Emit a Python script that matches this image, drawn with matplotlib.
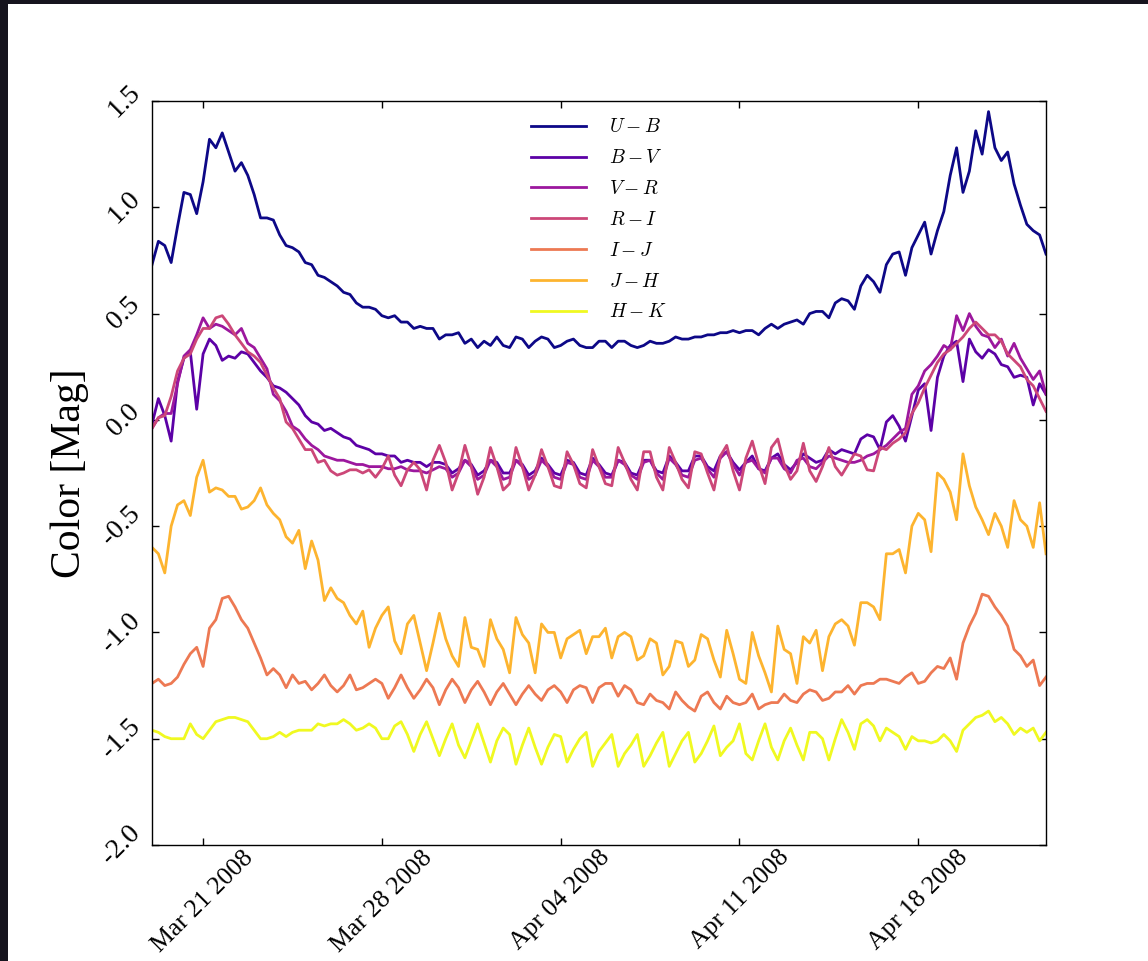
import numpy as np
import pandas as pd
import matplotlib
matplotlib.use("Agg")
import matplotlib.pyplot as plt
import matplotlib.dates as mdates
from matplotlib.patches import Rectangle

plt.rcParams["font.family"] = ["Liberation Serif", "DejaVu Serif"]
plt.rcParams["mathtext.fontset"] = "cm"

# time axis: samples every 6 hours starting 2008-03-19
start_time = "2008-03-19 00:00"
sample_step = "6h"

labels = ["$U-B$", "$B-V$", "$V-R$", "$R-I$", "$I-J$", "$J-H$", "$H-K$"]

u_b = [
    0.73, 0.84, 0.82, 0.74,  0.91, 1.07, 1.06, 0.97,  1.12, 1.32, 1.28, 1.35,
    1.26, 1.17, 1.21, 1.15,  1.06, 0.95, 0.95, 0.94,  0.87, 0.82, 0.81, 0.79,
    0.74, 0.73, 0.68, 0.67,  0.65, 0.63, 0.60, 0.59,  0.55, 0.53, 0.53, 0.52,
    0.49, 0.48, 0.49, 0.46,  0.46, 0.43, 0.44, 0.43,  0.43, 0.38, 0.40, 0.40,
    0.41, 0.36, 0.38, 0.34,  0.37, 0.35, 0.39, 0.35,  0.34, 0.39, 0.38, 0.34,
    0.37, 0.39, 0.38, 0.34,  0.35, 0.37, 0.38, 0.35,  0.34, 0.34, 0.37, 0.37,
    0.34, 0.37, 0.37, 0.35,  0.34, 0.35, 0.37, 0.36,  0.36, 0.37, 0.39, 0.38,
    0.38, 0.39, 0.39, 0.40,  0.40, 0.41, 0.41, 0.42,  0.41, 0.42, 0.42, 0.40,
    0.43, 0.45, 0.43, 0.45,  0.46, 0.47, 0.45, 0.50,  0.51, 0.51, 0.48, 0.55,
    0.57, 0.56, 0.52, 0.63,  0.68, 0.65, 0.60, 0.73,  0.78, 0.79, 0.68, 0.81,
    0.87, 0.93, 0.78, 0.89,  0.98, 1.15, 1.28, 1.07,  1.17, 1.36, 1.25, 1.45,
    1.28, 1.22, 1.26, 1.11,  1.01, 0.92, 0.89, 0.87,  0.78,
]

b_v = [
    -0.02, 0.10, 0.02, -0.10,  0.18, 0.29, 0.32, 0.05,  0.31, 0.38, 0.35, 0.28,
    0.30, 0.29, 0.32, 0.31,  0.27, 0.23, 0.20, 0.16,  0.15, 0.13, 0.10, 0.07,
    0.02, -0.01, -0.02, -0.05,  -0.04, -0.06, -0.08, -0.09,  -0.12, -0.13, -0.14, -0.16,
    -0.16, -0.17, -0.17, -0.20,  -0.19, -0.20, -0.20, -0.22,  -0.20, -0.20, -0.21, -0.25,
    -0.23, -0.19, -0.21, -0.26,  -0.24, -0.19, -0.20, -0.25,  -0.25, -0.19, -0.21, -0.26,
    -0.24, -0.18, -0.21, -0.25,  -0.26, -0.19, -0.20, -0.25,  -0.26, -0.18, -0.21, -0.25,
    -0.26, -0.19, -0.20, -0.25,  -0.26, -0.19, -0.19, -0.24,  -0.25, -0.17, -0.20, -0.24,
    -0.24, -0.17, -0.17, -0.22,  -0.24, -0.17, -0.15, -0.20,  -0.235, -0.20, -0.17, -0.23,
    -0.24, -0.18, -0.16, -0.21,  -0.235, -0.20, -0.16, -0.18,  -0.20, -0.19, -0.14, -0.16,
    -0.14, -0.15, -0.16, -0.09,  -0.07, -0.08, -0.14, -0.01,  0.02, -0.03, -0.10, 0.02,
    0.14, 0.17, -0.05, 0.20,  0.30, 0.35, 0.37, 0.18,  0.38, 0.32, 0.29, 0.33,
    0.31, 0.26, 0.25, 0.20,  0.21, 0.20, 0.07, 0.17,  0.12,
]

v_r = [
    -0.04, 0.01, 0.03, 0.03,  0.17, 0.30, 0.33, 0.40,  0.48, 0.43, 0.45, 0.44,
    0.42, 0.40, 0.43, 0.36,  0.34, 0.29, 0.24, 0.12,  0.09, 0.04, -0.03, -0.05,
    -0.09, -0.12, -0.14, -0.17,  -0.18, -0.19, -0.19, -0.20,  -0.21, -0.21, -0.22, -0.22,
    -0.22, -0.23, -0.23, -0.22,  -0.235, -0.24, -0.24, -0.25,  -0.235, -0.22, -0.23, -0.27,
    -0.25, -0.19, -0.22, -0.28,  -0.26, -0.19, -0.22, -0.28,  -0.27, -0.19, -0.22, -0.28,
    -0.26, -0.19, -0.22, -0.27,  -0.28, -0.20, -0.21, -0.27,  -0.28, -0.19, -0.22, -0.27,
    -0.27, -0.19, -0.21, -0.26,  -0.28, -0.20, -0.19, -0.25,  -0.28, -0.18, -0.21, -0.26,
    -0.27, -0.19, -0.18, -0.23,  -0.27, -0.18, -0.15, -0.21,  -0.26, -0.20, -0.19, -0.23,
    -0.25, -0.18, -0.18, -0.23,  -0.25, -0.19, -0.18, -0.22,  -0.23, -0.20, -0.17, -0.18,
    -0.19, -0.20, -0.20, -0.19,  -0.17, -0.16, -0.14, -0.12,  -0.09, -0.06, -0.04, 0.12,
    0.16, 0.23, 0.26, 0.30,  0.35, 0.33, 0.49, 0.42,  0.50, 0.44, 0.40, 0.39,
    0.34, 0.38, 0.30, 0.36,  0.29, 0.24, 0.19, 0.23,  0.12,
]

r_i = [
    -0.04, 0.01, 0.02, 0.11,  0.23, 0.29, 0.31, 0.38,  0.43, 0.43, 0.48, 0.49,
    0.45, 0.40, 0.36, 0.32,  0.30, 0.27, 0.21, 0.15,  0.10, -0.01, -0.04, -0.09,
    -0.14, -0.14, -0.20, -0.19,  -0.24, -0.26, -0.25, -0.235,  -0.235, -0.25, -0.235, -0.27,
    -0.23, -0.17, -0.26, -0.31,  -0.235, -0.20, -0.235, -0.33,  -0.19, -0.12, -0.20, -0.33,
    -0.25, -0.12, -0.22, -0.35,  -0.27, -0.13, -0.22, -0.33,  -0.30, -0.13, -0.22, -0.33,
    -0.26, -0.14, -0.22, -0.31,  -0.32, -0.15, -0.21, -0.30,  -0.32, -0.14, -0.22, -0.30,
    -0.31, -0.13, -0.20, -0.28,  -0.33, -0.15, -0.15, -0.27,  -0.33, -0.13, -0.20, -0.28,
    -0.32, -0.15, -0.16, -0.25,  -0.33, -0.17, -0.12, -0.24,  -0.33, -0.18, -0.10, -0.21,
    -0.30, -0.13, -0.09, -0.21,  -0.28, -0.24, -0.11, -0.24,  -0.29, -0.22, -0.13, -0.22,
    -0.26, -0.21, -0.16, -0.17,  -0.235, -0.24, -0.13, -0.14,  -0.11, -0.09, -0.06, 0.03,
    0.08, 0.15, 0.21, 0.27,  0.31, 0.33, 0.36, 0.39,  0.43, 0.46, 0.43, 0.40,
    0.40, 0.37, 0.31, 0.28,  0.25, 0.19, 0.16, 0.10,  0.04,
]

i_j = [
    -1.24, -1.22, -1.25, -1.24,  -1.21, -1.15, -1.10, -1.07,  -1.16, -0.98, -0.94, -0.84,
    -0.83, -0.88, -0.94, -0.98,  -1.05, -1.12, -1.20, -1.17,  -1.20, -1.26, -1.20, -1.24,
    -1.23, -1.27, -1.24, -1.20,  -1.25, -1.28, -1.25, -1.20,  -1.27, -1.26, -1.24, -1.22,
    -1.24, -1.31, -1.26, -1.20,  -1.26, -1.31, -1.27, -1.22,  -1.26, -1.34, -1.27, -1.22,
    -1.26, -1.33, -1.27, -1.23,  -1.28, -1.34, -1.28, -1.24,  -1.29, -1.34, -1.29, -1.25,
    -1.29, -1.32, -1.27, -1.25,  -1.28, -1.33, -1.27, -1.25,  -1.26, -1.33, -1.26, -1.24,
    -1.24, -1.30, -1.25, -1.27,  -1.33, -1.34, -1.29, -1.32,  -1.33, -1.36, -1.28, -1.32,
    -1.35, -1.37, -1.30, -1.28,  -1.33, -1.36, -1.30, -1.33,  -1.34, -1.33, -1.29, -1.36,
    -1.34, -1.33, -1.33, -1.29,  -1.32, -1.33, -1.29, -1.27,  -1.28, -1.32, -1.31, -1.28,
    -1.28, -1.25, -1.29, -1.25,  -1.24, -1.24, -1.22, -1.22,  -1.23, -1.24, -1.21, -1.19,
    -1.24, -1.23, -1.19, -1.16,  -1.17, -1.12, -1.22, -1.05,  -0.97, -0.91, -0.82, -0.83,
    -0.88, -0.92, -0.97, -1.08,  -1.11, -1.16, -1.13, -1.25,  -1.21,
]

j_h = [
    -0.60, -0.63, -0.72, -0.50,  -0.40, -0.38, -0.45, -0.27,  -0.19, -0.34, -0.32, -0.33,
    -0.36, -0.36, -0.42, -0.41,  -0.38, -0.32, -0.40, -0.44,  -0.47, -0.55, -0.58, -0.52,
    -0.70, -0.57, -0.66, -0.85,  -0.79, -0.84, -0.86, -0.92,  -0.96, -0.90, -1.07, -0.98,
    -0.92, -0.88, -1.04, -1.10,  -0.96, -0.92, -1.05, -1.18,  -1.05, -0.91, -1.03, -1.11,
    -1.16, -0.93, -1.07, -1.08,  -1.16, -0.94, -1.03, -1.08,  -1.19, -0.93, -1.01, -1.05,
    -1.19, -0.96, -1.00, -1.00,  -1.12, -1.03, -1.01, -0.99,  -1.10, -1.02, -1.02, -0.98,
    -1.12, -1.02, -1.00, -1.02,  -1.13, -1.11, -1.03, -1.05,  -1.20, -1.16, -1.04, -1.05,
    -1.16, -1.13, -1.01, -1.03,  -1.13, -1.21, -0.99, -1.10,  -1.22, -1.24, -1.00, -1.11,
    -1.19, -1.28, -0.97, -1.08,  -1.10, -1.24, -1.02, -1.05,  -0.99, -1.18, -1.02, -0.96,
    -0.94, -0.97, -1.06, -0.86,  -0.86, -0.88, -0.94, -0.63,  -0.63, -0.61, -0.72, -0.50,
    -0.44, -0.47, -0.62, -0.25,  -0.28, -0.34, -0.47, -0.16,  -0.31, -0.41, -0.47, -0.54,
    -0.44, -0.50, -0.60, -0.38,  -0.47, -0.50, -0.60, -0.39,  -0.63,
]

h_k = [
    -1.46, -1.47, -1.49, -1.50,  -1.50, -1.50, -1.43, -1.48,  -1.50, -1.46, -1.42, -1.41,
    -1.40, -1.40, -1.41, -1.42,  -1.46, -1.50, -1.50, -1.49,  -1.47, -1.49, -1.47, -1.46,
    -1.46, -1.46, -1.43, -1.44,  -1.43, -1.43, -1.41, -1.43,  -1.46, -1.45, -1.43, -1.45,
    -1.50, -1.50, -1.44, -1.42,  -1.48, -1.56, -1.48, -1.42,  -1.50, -1.58, -1.50, -1.43,
    -1.53, -1.59, -1.51, -1.43,  -1.52, -1.61, -1.51, -1.45,  -1.48, -1.62, -1.53, -1.45,
    -1.54, -1.62, -1.54, -1.48,  -1.49, -1.61, -1.55, -1.50,  -1.47, -1.63, -1.56, -1.52,
    -1.48, -1.63, -1.57, -1.53,  -1.48, -1.63, -1.58, -1.52,  -1.47, -1.63, -1.57, -1.51,
    -1.47, -1.61, -1.57, -1.51,  -1.44, -1.58, -1.54, -1.51,  -1.43, -1.57, -1.60, -1.51,
    -1.43, -1.54, -1.60, -1.51,  -1.45, -1.53, -1.60, -1.47,  -1.47, -1.50, -1.60, -1.50,
    -1.41, -1.47, -1.55, -1.43,  -1.41, -1.44, -1.51, -1.45,  -1.47, -1.49, -1.55, -1.49,
    -1.51, -1.51, -1.52, -1.51,  -1.48, -1.51, -1.56, -1.46,  -1.43, -1.40, -1.39, -1.37,
    -1.42, -1.40, -1.43, -1.48,  -1.45, -1.47, -1.45, -1.51,  -1.47,
]

series = [u_b, b_v, v_r, r_i, i_j, j_h, h_k]
tick_dates = ["2008-03-21", "2008-03-28", "2008-04-04", "2008-04-11", "2008-04-18"]
y_ticks = [-2.0, -1.5, -1.0, -0.5, 0.0, 0.5, 1.0, 1.5]

times = pd.date_range(start_time, periods=len(u_b), freq=sample_step)
colors = plt.cm.plasma(np.linspace(0, 1, len(series)))

fig = plt.figure(figsize=(11.48, 9.61), dpi=100)
fig.patch.set_facecolor("white")
ax = fig.add_axes([152 / 1148, 1 - 845 / 961, (1046 - 152) / 1148, (845 - 101) / 961])

for vals, lab, col in zip(series, labels, colors):
    ax.plot(times, vals, color=col, lw=2.0, label=lab)

ax.set_xlim(times[0], times[-1])
ax.set_ylim(-2.0, 1.5)
ax.set_yticks(y_ticks)
ax.yaxis.set_major_formatter(plt.FormatStrFormatter("%.1f"))
ax.set_xticks(pd.to_datetime(tick_dates))
ax.xaxis.set_major_formatter(mdates.DateFormatter("%b %d %Y"))

ax.tick_params(direction="in", top=True, right=True, length=5, width=1)
ax.tick_params(axis="x", pad=1, labelsize=18.5)
ax.tick_params(axis="y", pad=5, labelsize=20)
for lbl in ax.get_xticklabels():
    lbl.set_rotation(45)
    lbl.set_ha("center")
for lbl in ax.get_yticklabels():
    lbl.set_rotation(45)
    lbl.set_va("center")
    lbl.set_ha("right")

for sp in ax.spines.values():
    sp.set_linewidth(1.0)
    sp.set_color("black")

ax.set_ylabel("Color [Mag]", fontsize=30, labelpad=5)

ax.legend(loc="upper center", frameon=False, fontsize=14, handlelength=2.8,
          handletextpad=1.2, labelspacing=0.66)

# dark screen border of the original screenshot
dark = "#16141e"
fig.patches.append(Rectangle((0, 1 - 4 / 961), 1, 4 / 961, transform=fig.transFigure,
                             facecolor=dark, edgecolor="none", zorder=10))
fig.patches.append(Rectangle((0, 0), 8 / 1148, 1, transform=fig.transFigure,
                             facecolor=dark, edgecolor="none", zorder=10))

fig.savefig("out.png", dpi=100)
